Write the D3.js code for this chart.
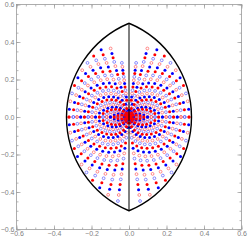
<!DOCTYPE html>
<html>
<head>
<meta charset="utf-8">
<script src="https://cdn.jsdelivr.net/npm/d3@7"></script>
<style>
  html, body { margin: 0; padding: 0; background: #fff; }
  text { font-family: "Liberation Sans", Arial, sans-serif; }
</style>
</head>
<body>
<div id="chart"></div>
<script>
// ray angles (degrees from the horizontal) and how far each ray reaches
const rayAngles = [0, 7.5, 15, 22.5, 30, 37.5, 45, 52.5, 60, 67.5, 75, 82.5]
const upperReach = [0.33, 0.331, 0.334, 0.339, 0.346, 0.354, 0.364, 0.375, 0.388, 0.4, 0.39, 0.3]
const lowerReach = [0.33, 0.331, 0.334, 0.339, 0.347, 0.357, 0.369, 0.384, 0.401, 0.421, 0.443, 0.466]
// fractions of the reach where the points sit along a ray
const radialSteps = [0.03, 0.07, 0.12, 0.18, 0.24, 0.3, 0.36, 0.42, 0.48, 0.54, 0.6, 0.66, 0.72, 0.78, 0.84, 0.9, 0.97]
const seriesNames = ['redFilled', 'blueFilled', 'redOpen', 'blueOpen']
// lens outline: tips and widest half-width
const lensTip = 0.5
const lensHalfWidth = 1 / 3
const xTicks = [-0.6, -0.4, -0.2, 0, 0.2, 0.4, 0.6]
const yTicks = [-0.6, -0.4, -0.2, 0, 0.2, 0.4, 0.6]
const minorTicks = d3.range(-0.6, 0.6001, 0.05).map((v) => +v.toFixed(2))

const width = 249
const height = 244
const plot = { left: 16.5, right: 241.5, top: 4.5, bottom: 229.5 }

const style = {
  redFilled: { fill: '#ff0000', stroke: 'none', r: 1.5 },
  blueFilled: { fill: '#0000ff', stroke: 'none', r: 1.5 },
  redOpen: { fill: 'none', stroke: '#ff5a5a', r: 1.4 },
  blueOpen: { fill: 'none', stroke: '#5a5aff', r: 1.4 },
}

const x = d3.scaleLinear().domain([-0.6, 0.6]).range([plot.left, plot.right])
const y = d3.scaleLinear().domain([-0.6, 0.6]).range([plot.bottom, plot.top])

const svg = d3
  .select('#chart')
  .append('svg')
  .attr('width', width)
  .attr('height', height)
  .attr('viewBox', `0 0 ${width} ${height}`)

// build the points ray by ray
const points = []
let rayIndex = 0
;[
  { sy: 1, reach: upperReach },
  { sy: -1, reach: lowerReach },
].forEach(({ sy, reach }) => {
  ;[-1, 1].forEach((sx) => {
    rayAngles.forEach((deg, i) => {
      const a = (deg * Math.PI) / 180
      radialSteps.forEach((f, k) => {
        const r = f * reach[i]
        points.push({
          x: sx * r * Math.cos(a),
          y: sy * r * Math.sin(a),
          series: seriesNames[(k + rayIndex) % 4],
        })
      })
      rayIndex++
    })
  })
})

// draw order: open markers first, filled on top
const order = ['blueOpen', 'redOpen', 'blueFilled', 'redFilled']
points.sort((a, b) => order.indexOf(a.series) - order.indexOf(b.series))

svg
  .append('g')
  .selectAll('circle')
  .data(points)
  .join('circle')
  .attr('cx', (d) => x(d.x))
  .attr('cy', (d) => y(d.y))
  .attr('r', (d) => style[d.series].r)
  .attr('fill', (d) => style[d.series].fill)
  .attr('stroke', (d) => style[d.series].stroke)
  .attr('stroke-width', 0.7)

// lens outline from two circular arcs
const c = (lensTip * lensTip - lensHalfWidth * lensHalfWidth) / (2 * lensHalfWidth)
const R = (c + lensHalfWidth) * (x(1) - x(0))
const lens = `M${x(0)},${y(lensTip)} A${R},${R} 0 0 0 ${x(0)},${y(-lensTip)} A${R},${R} 0 0 0 ${x(0)},${y(lensTip)}`
svg
  .append('path')
  .attr('d', lens)
  .attr('fill', 'none')
  .attr('stroke', '#000')
  .attr('stroke-width', 1.4)

svg
  .append('line')
  .attr('x1', x(0))
  .attr('x2', x(0))
  .attr('y1', y(lensTip))
  .attr('y2', y(-lensTip))
  .attr('stroke', '#000')
  .attr('stroke-width', 1)

// frame and ticks
const tickColor = '#999'
function frameAxis(axis, tr, values, size, labels) {
  const g = svg
    .append('g')
    .attr('transform', tr)
    .call(
      axis
        .tickValues(values)
        .tickSize(size)
        .tickPadding(2)
        .tickFormat(labels ? d3.format('.1f') : () => '')
    )
  g.select('.domain').remove()
  g.selectAll('line').attr('stroke', tickColor).attr('stroke-width', 0.7)
  g.selectAll('text').attr('fill', '#808080').attr('font-size', 7)
  return g
}

frameAxis(d3.axisBottom(x), `translate(0,${plot.bottom})`, minorTicks, -2, false)
frameAxis(d3.axisBottom(x), `translate(0,${plot.bottom})`, xTicks, -4, true)
frameAxis(d3.axisTop(x), `translate(0,${plot.top})`, minorTicks, -2, false)
frameAxis(d3.axisTop(x), `translate(0,${plot.top})`, xTicks, -4, false)
frameAxis(d3.axisLeft(y), `translate(${plot.left},0)`, minorTicks, -2, false)
frameAxis(d3.axisLeft(y), `translate(${plot.left},0)`, yTicks, -4, true)
frameAxis(d3.axisRight(y), `translate(${plot.right},0)`, minorTicks, -2, false)
frameAxis(d3.axisRight(y), `translate(${plot.right},0)`, yTicks, -4, false)

svg
  .append('rect')
  .attr('x', plot.left)
  .attr('y', plot.top)
  .attr('width', plot.right - plot.left)
  .attr('height', plot.bottom - plot.top)
  .attr('fill', 'none')
  .attr('stroke', tickColor)
  .attr('stroke-width', 0.8)
</script>
</body>
</html>
